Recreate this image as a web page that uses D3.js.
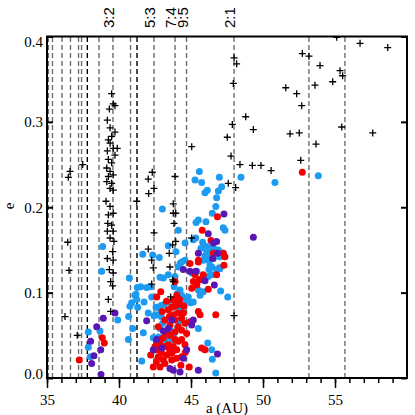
<!DOCTYPE html>
<html>
<head>
<meta charset="utf-8">
<script src="https://cdn.jsdelivr.net/npm/d3@7"></script>
<style>
body { margin: 0; background: #fff; }
svg { display: block; }
</style>
</head>
<body>
<div class="chart"></div>
<script>
// resonance positions (AU) -- dark ones are drawn black
var resA = [35.10, 35.38, 36.04, 36.63, 37.19, 37.40, 37.80, 38.61, 39.58, 40.80, 41.25, 42.43, 43.89, 44.69, 47.99, 53.19, 55.69];
var resDark = [37.80, 41.25];
var resLabelA = [39.58, 42.43, 43.89, 44.69, 47.99];
var resLabelText = ["3:2", "5:3", "7:4", "9:5", "2:1"];

var xTicks = [35, 40, 45, 50, 55];
var yTicks = [0, 0.1, 0.2, 0.3, 0.4];

// [a, e]
var black = [
  [36.60,.242],[36.48,.235],[37.48,.250],[36.44,.159],[36.53,.126],[36.25,.072],[37.10,.050],
  [39.49,.333],[39.60,.321],[39.72,.319],[39.33,.315],[39.19,.302],[39.38,.293],[39.72,.288],[39.49,.283],[39.26,.279],[39.38,.275],[39.60,.269],[39.19,.266],[39.88,.269],[39.72,.261],[39.26,.256],[39.49,.252],[39.15,.246],[39.38,.242],[39.60,.238],[39.26,.236],[39.15,.230],[39.49,.228],[39.38,.222],[39.60,.220],[39.10,.207],[39.38,.201],[39.26,.191],[39.60,.193],[39.22,.181],[39.49,.179],[39.19,.172],[39.60,.172],[39.38,.164],[39.65,.160],[39.56,.148],[39.19,.140],[39.60,.138],[39.33,.127],[39.60,.123],[39.42,.113],[39.56,.108],[39.26,.092],[39.42,.078],
  [41.23,.207],[42.31,.241],[42.03,.233],[42.43,.222],[42.06,.216],[43.89,.236],[43.77,.204],[43.77,.193],[43.94,.193],[43.82,.181],[43.94,.160],[43.73,.156],[43.49,.146],[43.54,.130],[43.73,.115],[43.77,.113],[43.59,.095],[42.03,.151],[42.27,.138],[42.38,.129],[42.43,.170],[42.27,.110],[45.05,.271],[45.05,.164],
  [47.78,.260],[48.40,.250],[47.59,.228],[48.10,.223],[47.99,.375],[48.17,.368],[47.94,.345],[48.80,.306],[49.33,.291],[47.87,.297],[47.52,.282],[49.26,.249],[49.86,.249],[50.56,.243],[52.62,.255],[52.73,.380],[53.19,.377],[53.96,.366],[51.58,.340],[52.34,.333],[52.69,.319],[53.61,.343],[54.84,.347],[55.35,.360],[55.53,.354],[56.74,.392],[58.66,.387],[51.88,.286],[52.52,.287],[53.68,.274],[55.47,.294],[57.62,.287],[47.99,.073],[55.12,.399]
];

var blue = [
  [45.58,.242],[45.28,.232],[45.74,.229],[46.13,.220],[45.97,.217],[46.97,.235],[47.13,.224],[46.90,.219],[46.78,.211],[46.72,.201],[48.47,.235],[50.83,.229],[53.84,.237],[43.01,.198],[46.48,.193],[46.04,.183],[45.51,.185],[45.35,.182],[47.24,.176],[47.36,.173],[44.12,.173],[45.16,.162],[45.33,.164],[43.42,.155],[43.96,.148],[41.65,.145],[42.34,.144],[42.80,.141],[46.09,.154],[46.09,.148],[45.97,.143],[46.39,.148],[46.55,.153],[46.90,.150],[46.27,.142],[46.55,.140],[47.01,.142],[47.24,.146],[44.35,.136],[44.58,.138],[46.20,.138],[45.05,.123],[45.40,.125],[46.44,.121],[46.97,.129],[47.01,.128],[46.78,.127],[46.44,.130],[46.25,.127],[47.06,.102],[47.55,.095],[46.16,.041],[46.48,.022],[46.72,.006],
  [38.87,.154],[38.80,.125],[40.72,.117],[42.85,.118],[43.08,.117],[43.42,.121],[43.89,.119],[41.92,.106],[42.20,.107],[41.27,.106],[41.11,.097],[41.23,.092],[40.88,.088],[40.76,.084],[41.30,.083],[41.74,.089],[42.27,.095],[42.57,.083],[42.92,.085],[43.13,.086],[43.42,.089],[42.03,.076],[42.43,.073],[42.92,.072],[40.67,.072],[40.95,.058],[40.65,.045],[41.69,.053],[41.58,.020],[37.87,.054],[38.68,.055],[37.87,.036],[38.01,.025],[39.91,.068],[41.51,.107],[41.18,.098],[44.12,.130],[44.24,.134],[42.80,.082],[42.62,.074],
  [43.83,.107],[44.06,.099],[44.24,.103],[44.35,.097],[44.12,.089],[44.58,.092],[44.81,.095],[45.16,.089],[45.63,.097],[45.51,.103],[45.85,.101],[46.20,.119],[46.32,.132],[45.51,.058],[46.44,.033],[44.24,.068],[44.12,.066],[43.54,.056],[42.85,.058],[42.73,.048],[43.42,.048],[43.66,.045],[43.77,.050],[43.19,.045],[43.03,.064],[44.98,.088],[44.24,.080],[44.01,.086],[42.38,.047],[45.85,.138],[44.59,.158],[45.81,.159],[45.69,.152]
];

var red = [
  [52.73,.241],[46.84,.189],[45.78,.173],[46.39,.161],[47.24,.146],[47.36,.142],[47.29,.132],[45.51,.138],[46.20,.104],[46.72,.074],[45.97,.033],[37.24,.021],[38.84,.047],[38.98,.041],[42.62,.095],[45.58,.115],[45.85,.121],[46.78,.121],[46.55,.146],[42.90,.101],[43.77,.091],[44.01,.089],[44.24,.086],[43.89,.084],[44.12,.076],[44.47,.076],[44.35,.070],[43.89,.068],[43.77,.074],[44.58,.064],[44.12,.060],[44.35,.056],[43.89,.054],[43.54,.050],[43.19,.054],[43.08,.047],[42.62,.043],[42.50,.037],[42.85,.039],[43.19,.037],[43.42,.039],[43.77,.037],[44.12,.043],[44.35,.045],[44.01,.033],[43.66,.029],[43.31,.027],[42.97,.029],[42.62,.033],[42.73,.025],[43.08,.021],[42.85,.013],[42.38,.013],[43.66,.021],[44.01,.023],[44.35,.025],[43.19,.017],[44.93,.134],[45.51,.136],[45.28,.121],[45.16,.113],[45.40,.109],[45.63,.115],[45.05,.105],[45.51,.078],[45.63,.074],[44.93,.066],[45.74,.035],[44.88,.013],[44.51,.084],[43.89,.113],[43.42,.080],[43.19,.068],[43.54,.062],[44.70,.052],[42.73,.060],[44.58,.039],[42.20,.027],[44.01,.097],[43.66,.083],
  [43.30,.090],[43.50,.072],[44.20,.092],[43.00,.078],[44.60,.030],[42.90,.045],[43.90,.045],[43.50,.034],[44.30,.015],[42.60,.019]
];

var purple = [
  [39.72,.076],[38.91,.070],[38.45,.060],[38.03,.043],[38.26,.026],[38.10,.017],[38.75,.004],[38.73,.033],[41.92,.067],[44.47,.127],[45.33,.125],[47.29,.192],[46.20,.169],[46.78,.160],[45.51,.146],[46.51,.140],[44.93,.125],[49.33,.165],[46.55,.158],[46.84,.146],[45.97,.114],[46.62,.109],[46.84,.028],[43.66,.068],[45.16,.068],[45.05,.062],[44.70,.033],[44.47,.023],[43.54,.011],[43.77,.009],[44.24,.007],[45.51,.009],[42.62,.045],[43.08,.055],[43.42,.058],[42.97,.035],[42.38,.033]
];

var width = 415, height = 415;
var x = d3.scaleLinear().domain([35, 60]).range([47, 407]);
var y = d3.scaleLinear().domain([0, 0.4]).range([378, 36.5]);

var svg = d3.select(".chart").append("svg").attr("width", width).attr("height", height);
var serif = "'Liberation Serif', 'Times New Roman', serif";

svg.append("clipPath").attr("id", "plot").append("rect")
  .attr("x", x(35)).attr("y", y(0.4)).attr("width", x(60) - x(35)).attr("height", y(0) - y(0.4));

// dashed resonance lines
svg.append("g").selectAll("line").data(resA).enter().append("line")
  .attr("x1", function(d) { return x(d); }).attr("x2", function(d) { return x(d); })
  .attr("y1", y(0)).attr("y2", y(0.4))
  .attr("stroke", function(d) { return resDark.indexOf(d) >= 0 ? "#000" : "#6e6e6e"; })
  .attr("stroke-width", 1.4)
  .attr("stroke-dasharray", "5,3");

svg.append("g").selectAll("text").data(resLabelA).enter().append("text")
  .attr("transform", function(d) { return "translate(" + (x(d) + 1) + ",28) rotate(-90)"; })
  .attr("font-family", "'Liberation Sans', Arial, sans-serif")
  .attr("font-size", 15)
  .text(function(d, i) { return resLabelText[i]; });

var pts = svg.append("g").attr("clip-path", "url(#plot)");

function dots(data, color) {
  pts.append("g").selectAll("circle").data(data).enter().append("circle")
    .attr("cx", function(d) { return x(d[0]); })
    .attr("cy", function(d) { return y(d[1]); })
    .attr("r", 3.5)
    .style("fill", color);
}
dots(blue, "#1d9bf0");
dots(red, "#f50000");
dots(purple, "#5a16b4");

pts.append("g").selectAll("path").data(black).enter().append("path")
  .attr("d", function(d) {
    var cx = x(d[0]), cy = y(d[1]), s = 3.5;
    return "M" + (cx - s) + "," + cy + "H" + (cx + s) + "M" + cx + "," + (cy - s) + "V" + (cy + s);
  })
  .attr("stroke", "#000").attr("stroke-width", 1.3);

// axes
var minor = svg.append("g").attr("transform", "translate(0," + y(0) + ")")
  .call(d3.axisBottom(x).tickValues(d3.range(35, 60, 1)).tickSize(5).tickFormat(""));
minor.select(".domain").remove();
minor.selectAll("line").attr("stroke-width", 1.5);

var bottom = svg.append("g").attr("transform", "translate(0," + y(0) + ")")
  .call(d3.axisBottom(x).tickValues(xTicks).tickSize(10).tickPadding(6).tickFormat(d3.format("d")));
bottom.select(".domain").remove();
bottom.selectAll("line").attr("stroke-width", 1.5);
bottom.selectAll("text").attr("font-family", serif).attr("font-size", 15).attr("fill", "#000");

var left = svg.append("g").attr("transform", "translate(" + x(35) + ",0)")
  .call(d3.axisLeft(y).tickValues(yTicks).tickSizeInner(-6).tickSizeOuter(0).tickPadding(4).tickFormat(d3.format(".1f")));
left.select(".domain").remove();
left.selectAll("line").attr("stroke-width", 2);
left.selectAll("text").attr("font-family", serif).attr("font-size", 15).attr("fill", "#000")
  .attr("dy", function(d) { return d === 0 ? "0em" : d === 0.4 ? "0.65em" : "0.32em"; });

var right = svg.append("g").attr("transform", "translate(" + x(60) + ",0)")
  .call(d3.axisRight(y).tickValues(yTicks).tickSizeInner(-6).tickSizeOuter(0).tickFormat(""));
right.select(".domain").remove();
right.selectAll("line").attr("stroke-width", 2);

svg.append("rect")
  .attr("x", x(35)).attr("y", y(0.4)).attr("width", x(60) - x(35)).attr("height", y(0) - y(0.4))
  .attr("fill", "none").attr("stroke", "#000").attr("stroke-width", 2);

svg.append("text").attr("x", 227).attr("y", 413)
  .attr("text-anchor", "middle").attr("font-family", serif).attr("font-size", 15)
  .text("a (AU)");

svg.append("text").attr("transform", "translate(14,206) rotate(-90)")
  .attr("text-anchor", "middle").attr("font-family", serif).attr("font-size", 15)
  .text("e");
</script>
</body>
</html>
